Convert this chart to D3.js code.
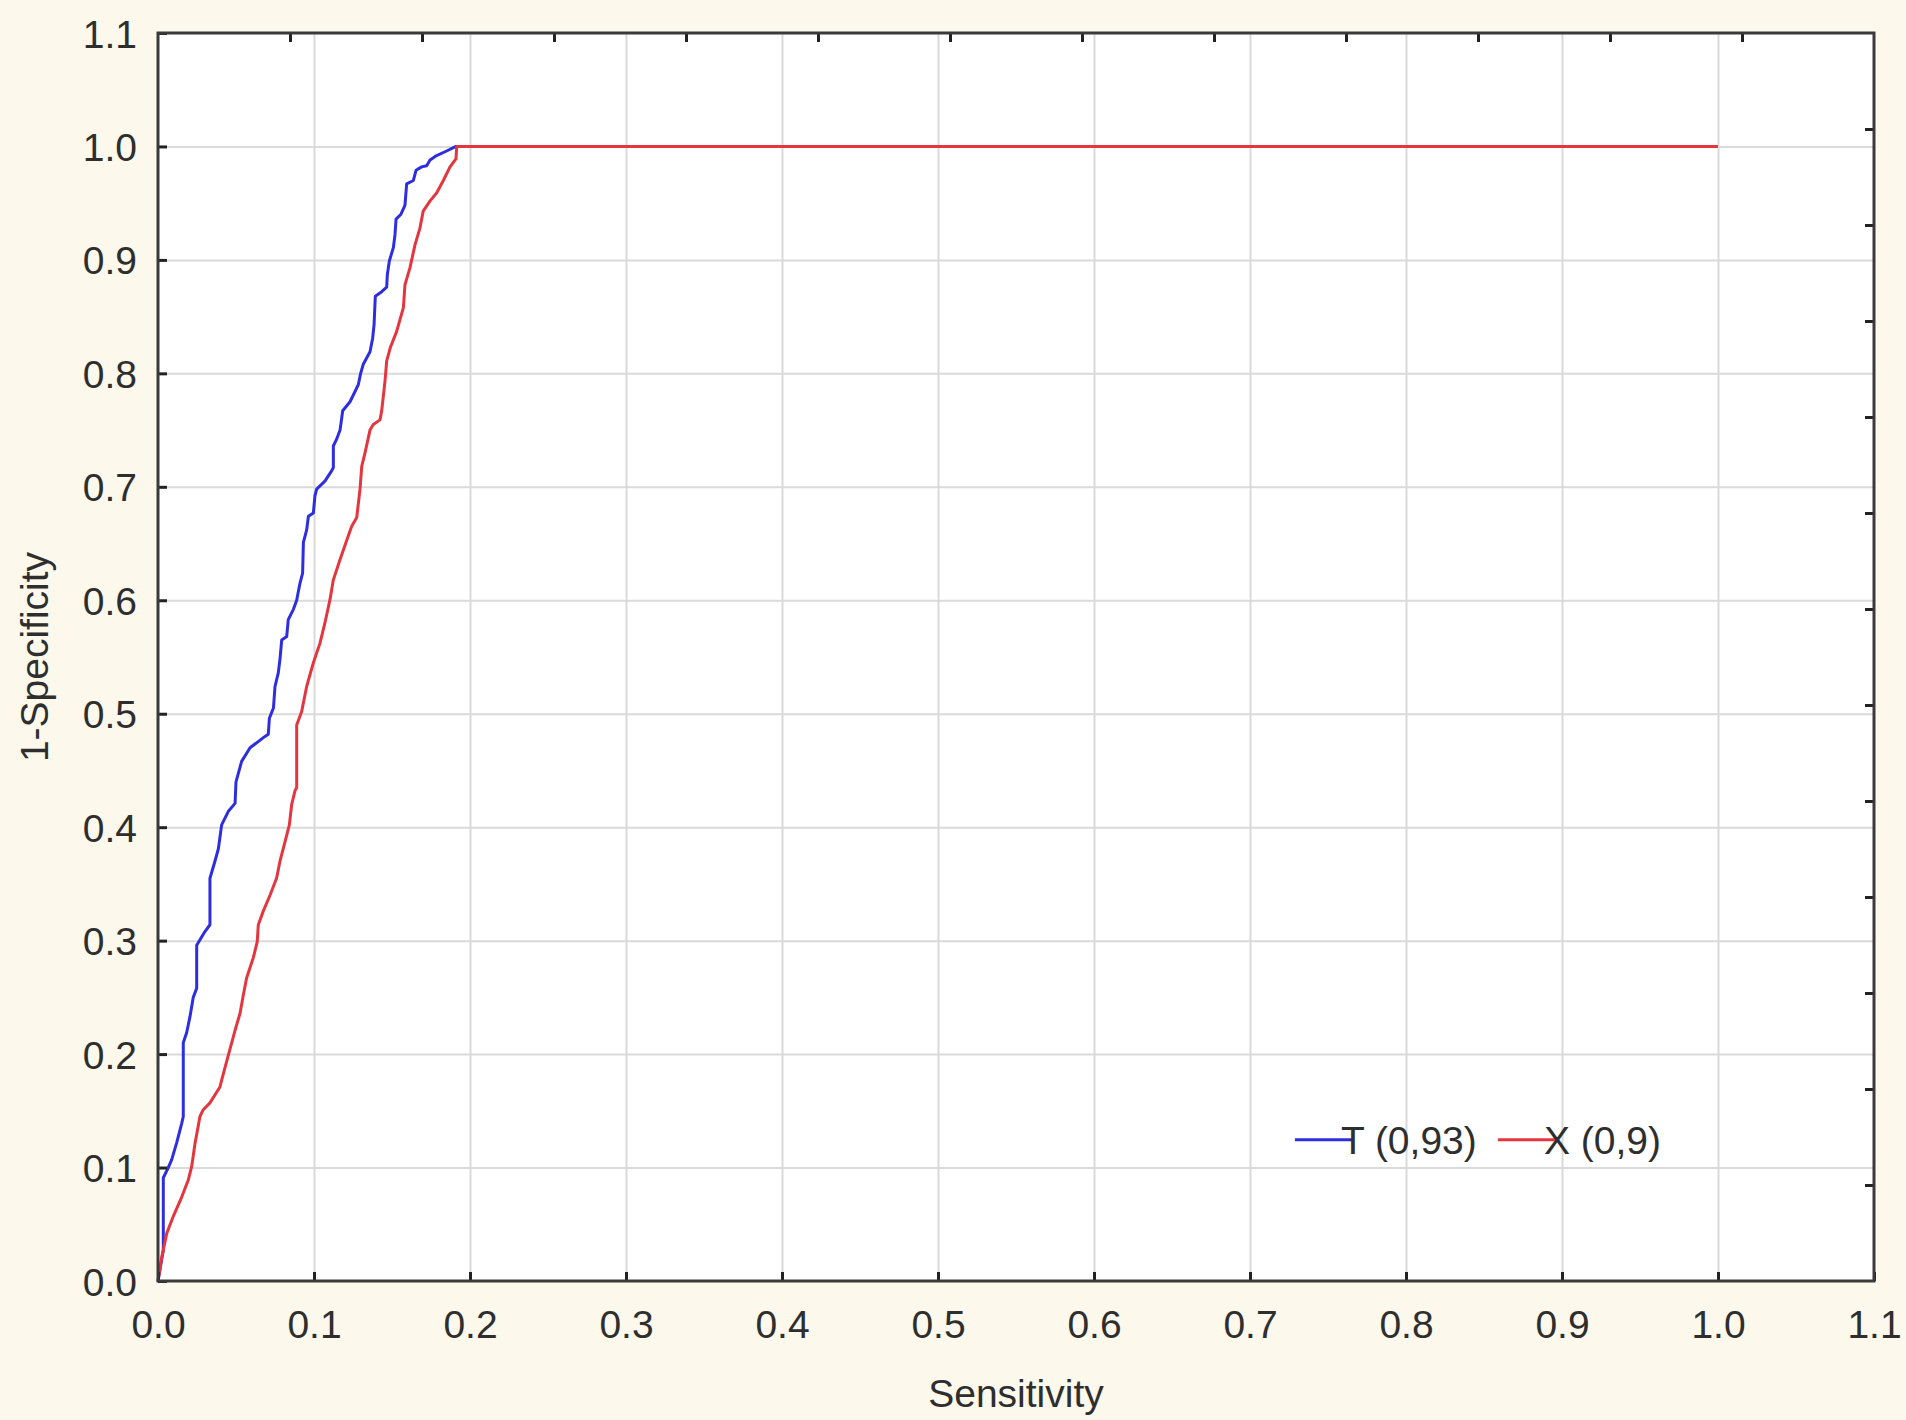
<!DOCTYPE html>
<html>
<head>
<meta charset="utf-8">
<script src="https://cdn.jsdelivr.net/npm/d3@7/dist/d3.min.js"></script>
<style>
  html, body { margin: 0; padding: 0; background: #fcf8ec; }
  svg { display: block; }
  text { font-family: "Liberation Sans", Arial, sans-serif; fill: #2e2e2e; }
</style>
</head>
<body>
<svg id="chart" width="1906" height="1420"></svg>
<script>
// ROC curves: (sensitivity, 1-specificity) pairs for the two tests
const seriesNames = ["T (0,93)", "X (0,9)"];
const seriesColors = ["#2e2ee0", "#e4363f"];

const curveT = [
  [0, 0], [0.0034, 0.027], [0.0034, 0.091], [0.0066, 0.100], [0.0088, 0.107],
  [0.012, 0.122], [0.0152, 0.139], [0.0162, 0.145], [0.0162, 0.210], [0.0184, 0.219],
  [0.0205, 0.233], [0.0226, 0.250], [0.0248, 0.258], [0.0248, 0.296], [0.0301, 0.308],
  [0.0333, 0.314], [0.0333, 0.355], [0.0365, 0.370], [0.0387, 0.381], [0.0408, 0.402],
  [0.0451, 0.414], [0.0494, 0.421], [0.050, 0.440], [0.0536, 0.458], [0.059, 0.470],
  [0.0686, 0.480], [0.0707, 0.482], [0.0714, 0.496], [0.074, 0.505], [0.075, 0.524],
  [0.0771, 0.536], [0.0782, 0.548], [0.0793, 0.565], [0.0825, 0.568], [0.0835, 0.583],
  [0.0868, 0.592], [0.0889, 0.600], [0.091, 0.615], [0.0927, 0.624], [0.0932, 0.651],
  [0.0953, 0.662], [0.0964, 0.674], [0.0996, 0.677], [0.1006, 0.692], [0.1017, 0.698],
  [0.107, 0.705], [0.1113, 0.714], [0.1124, 0.717], [0.1124, 0.736], [0.1145, 0.742],
  [0.1167, 0.750], [0.1184, 0.767], [0.1231, 0.775], [0.1263, 0.784], [0.1284, 0.790],
  [0.1299, 0.800], [0.1316, 0.808], [0.1359, 0.819], [0.1376, 0.831], [0.1385, 0.843],
  [0.1393, 0.868], [0.1434, 0.872], [0.1466, 0.876], [0.147, 0.887], [0.1483, 0.899],
  [0.1509, 0.911], [0.1519, 0.922], [0.1526, 0.936], [0.1556, 0.940], [0.1583, 0.948],
  [0.1594, 0.967], [0.1637, 0.970], [0.1654, 0.979], [0.169, 0.982], [0.1722, 0.983],
  [0.1744, 0.988], [0.1786, 0.992], [0.185, 0.996], [0.191, 1.0], [1.0, 1.0]
];

const curveX = [
  [0, 0], [0.0024, 0.021], [0.0056, 0.042], [0.0098, 0.057], [0.0152, 0.074],
  [0.0194, 0.089], [0.0216, 0.101], [0.0237, 0.121], [0.0269, 0.145], [0.029, 0.151],
  [0.0333, 0.157], [0.0397, 0.171], [0.0408, 0.177], [0.0451, 0.199], [0.0494, 0.221],
  [0.0526, 0.236], [0.0547, 0.252], [0.0568, 0.267], [0.0611, 0.285], [0.0636, 0.299],
  [0.0643, 0.314], [0.0675, 0.326], [0.0718, 0.340], [0.076, 0.355], [0.0782, 0.370],
  [0.0814, 0.387], [0.0842, 0.402], [0.0857, 0.420], [0.0878, 0.432], [0.0889, 0.435],
  [0.0889, 0.490], [0.0921, 0.502], [0.0953, 0.524], [0.0996, 0.545], [0.1038, 0.562],
  [0.107, 0.580], [0.1103, 0.601], [0.1124, 0.618], [0.1167, 0.636], [0.121, 0.653],
  [0.1241, 0.665], [0.1274, 0.673], [0.1295, 0.698], [0.1306, 0.718], [0.1327, 0.730],
  [0.1359, 0.750], [0.138, 0.755], [0.1423, 0.759], [0.1434, 0.767], [0.1455, 0.793],
  [0.1466, 0.811], [0.149, 0.823], [0.153, 0.837], [0.1573, 0.858], [0.1583, 0.878],
  [0.1615, 0.893], [0.1647, 0.913], [0.1679, 0.928], [0.170, 0.943], [0.1744, 0.952],
  [0.1786, 0.959], [0.1829, 0.970], [0.1872, 0.982], [0.191, 0.989], [0.1915, 1.0],
  [1.0, 1.0]
];

const xTicks = [0.0, 0.1, 0.2, 0.3, 0.4, 0.5, 0.6, 0.7, 0.8, 0.9, 1.0, 1.1];
const yTicks = [0.0, 0.1, 0.2, 0.3, 0.4, 0.5, 0.6, 0.7, 0.8, 0.9, 1.0, 1.1];
const gridTicks = [0.1, 0.2, 0.3, 0.4, 0.5, 0.6, 0.7, 0.8, 0.9, 1.0];
// unlabeled secondary tick marks on the top and right frame edges
const secondaryTicks = [0.1, 0.2, 0.3, 0.4, 0.5, 0.6, 0.7, 0.8, 0.9, 1.0, 1.1, 1.2];

const xTitle = "Sensitivity";
const yTitle = "1-Specificity";

const margin = { left: 158, top: 33, right: 1906 - 1874, bottom: 1420 - 1281 };
const W = 1906 - margin.left - margin.right;
const H = 1420 - margin.top - margin.bottom;

const svg = d3.select("#chart");
const g = svg.append("g").attr("transform", `translate(${margin.left},${margin.top})`);

const x = d3.scaleLinear().domain([0, 1.1]).range([0, W]);
const y = d3.scaleLinear().domain([0, 1.1]).range([H, 0]);
const xSec = d3.scaleLinear().domain([0, 1.3]).range([0, W]);
const ySec = d3.scaleLinear().domain([0, 1.3]).range([H, 0]);

// plot area
g.append("rect").attr("width", W).attr("height", H).attr("fill", "#ffffff");

// grid
g.append("g").attr("class", "grid")
  .attr("transform", `translate(0,${H})`)
  .call(d3.axisBottom(x).tickValues(gridTicks).tickSize(-H).tickFormat(""))
  .call(s => s.select(".domain").remove())
  .call(s => s.selectAll("line").attr("stroke", "#dadada").attr("stroke-width", 2));
g.append("g").attr("class", "grid")
  .call(d3.axisLeft(y).tickValues(gridTicks).tickSize(-W).tickFormat(""))
  .call(s => s.select(".domain").remove())
  .call(s => s.selectAll("line").attr("stroke", "#dadada").attr("stroke-width", 2));

// curves
const line = d3.line().x(d => x(d[0])).y(d => y(d[1]));
[curveT, curveX].forEach((data, i) => {
  g.append("path")
    .datum(data)
    .attr("fill", "none")
    .attr("stroke", seriesColors[i])
    .attr("stroke-width", 3)
    .attr("stroke-linejoin", "round")
    .attr("d", line);
});

// axes with inward ticks
const fmt = d3.format(".1f");
const styleAxis = s => {
  s.select(".domain").remove();
  s.selectAll(".tick line").attr("stroke", "#222").attr("stroke-width", 3);
  s.selectAll(".tick text").attr("font-size", 39).attr("fill", "#2e2e2e")
    .attr("font-family", "'Liberation Sans', Arial, sans-serif");
};
g.append("g")
  .attr("transform", `translate(0,${H})`)
  .call(d3.axisBottom(x).tickValues(xTicks).tickFormat(fmt).tickSize(-9).tickPadding(29))
  .call(styleAxis);
g.append("g")
  .call(d3.axisLeft(y).tickValues(yTicks).tickFormat(fmt).tickSize(-9).tickPadding(21))
  .call(styleAxis)
  .call(s => s.selectAll(".tick text").attr("dy", "0.36em"));
g.append("g")
  .call(d3.axisTop(xSec).tickValues(secondaryTicks).tickFormat("").tickSize(-9))
  .call(styleAxis);
g.append("g")
  .attr("transform", `translate(${W},0)`)
  .call(d3.axisRight(ySec).tickValues(secondaryTicks).tickFormat("").tickSize(-9))
  .call(styleAxis);

// frame
g.append("rect").attr("width", W).attr("height", H)
  .attr("fill", "none").attr("stroke", "#3a3a3a").attr("stroke-width", 3);

// axis titles
svg.append("text")
  .attr("x", margin.left + W / 2).attr("y", 1407)
  .attr("text-anchor", "middle").attr("font-size", 39)
  .text(xTitle);
svg.append("text")
  .attr("transform", `translate(48,${margin.top + H / 2}) rotate(-90)`)
  .attr("text-anchor", "middle").attr("font-size", 39)
  .text(yTitle);

// legend
const legend = g.append("g").attr("transform", `translate(${x(0.7288)},${y(0.1246)})`);
const legendOffsets = [0, 203];
seriesNames.forEach((name, i) => {
  const item = legend.append("g").attr("transform", `translate(${legendOffsets[i]},0)`);
  item.append("line").attr("x1", 0).attr("x2", 57).attr("y1", 0).attr("y2", 0)
    .attr("stroke", seriesColors[i]).attr("stroke-width", 3);
  item.append("text").attr("x", 46).attr("y", 0).attr("dy", "0.36em")
    .attr("font-size", 39).text(name);
});
</script>
</body>
</html>
